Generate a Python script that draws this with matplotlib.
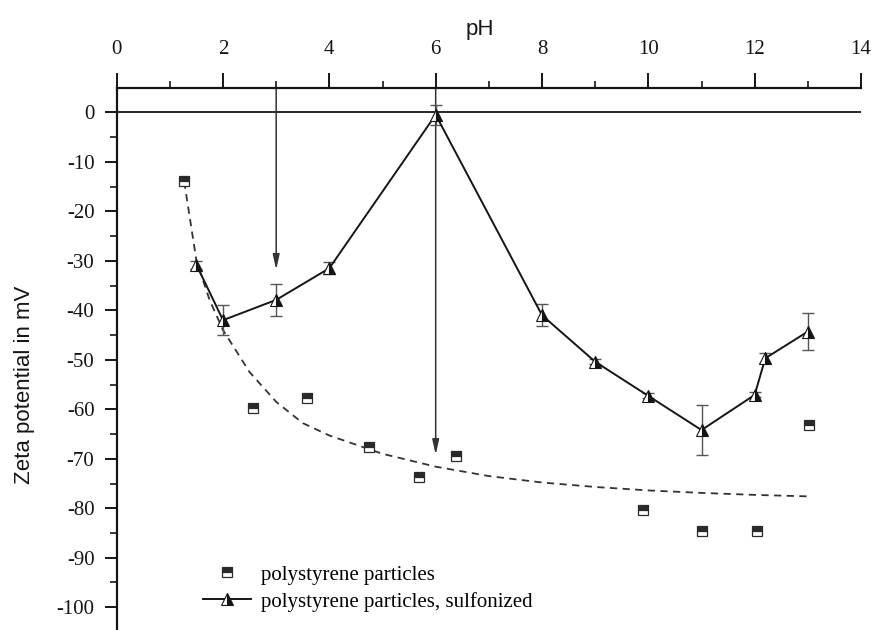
import numpy as np
import matplotlib
matplotlib.use("Agg")
import matplotlib.pyplot as plt
from matplotlib.lines import Line2D
from matplotlib.ticker import MultipleLocator

plt.rcParams["axes.unicode_minus"] = False

# polystyrene particles, sulfonized (triangles, with error bars)
ph_sulf = [1.5, 2.0, 3.0, 4.0, 6.0, 8.0, 9.0, 10.0, 11.0, 12.0, 12.2, 13.0]
zeta_sulf = [-30.8, -42.0, -37.9, -31.5, -0.5, -41.0, -50.4, -57.3, -64.2, -57.1, -49.7, -44.3]
err_sulf = [0.8, 3.0, 3.3, 1.2, 2.0, 2.2, 0.5, 0.5, 5.0, 0.5, 1.0, 3.8]

# polystyrene particles (squares)
ph_plain = [1.27, 2.57, 3.58, 4.74, 5.68, 6.39, 9.9, 11.0, 12.05, 13.02]
zeta_plain = [-13.8, -59.8, -57.8, -67.6, -73.6, -69.4, -80.3, -84.5, -84.5, -63.2]

# dashed trend line
ph_trend = [1.27, 1.5, 1.75, 2.0, 2.5, 3.0, 3.5, 4.0, 5.0, 6.0, 7.0, 8.0, 9.0, 10.0, 11.0, 12.0, 13.0]
zeta_trend = [-14.0, -30.0, -38.0, -44.0, -52.5, -58.5, -62.8, -65.3, -69.0, -71.6, -73.5, -74.8, -75.7, -76.4, -76.9, -77.3, -77.6]

# arrows (pH, tip value)
arrow_ph = [3, 6]
arrow_tip = [-31.8, -69.2]

xticks = [0, 2, 4, 6, 8, 10, 12, 14]
yticks = [0, -10, -20, -30, -40, -50, -60, -70, -80, -90, -100]

serif = "Liberation Serif"
sans = "Liberation Sans"
ink = "#151515"

fig = plt.figure(figsize=(8.75, 6.3), dpi=100)
ax = fig.add_axes([116.7 / 875, 0, 744.3 / 875, 541.7 / 630])
ax.set_xlim(0, 14)
ax.set_ylim(-104.6, 4.85)

# zero line
ax.axhline(0, color=ink, lw=1.3, zorder=1)

# arrows from the pH axis
for xp, tip in zip(arrow_ph, arrow_tip):
    ax.annotate("", xy=(xp, tip), xytext=(xp, 4.85),
                arrowprops=dict(arrowstyle="-|>,head_width=0.2,head_length=0.9",
                                color="#333333", lw=1.1, shrinkA=0, shrinkB=0),
                zorder=2)

# dashed trend
ax.plot(ph_trend, zeta_trend, ls=(0, (4, 3)), color="#333333", lw=1.3, zorder=2)

# plain particles
ax.plot(ph_plain, zeta_plain, ls="none", marker="s", ms=6.5, fillstyle="top",
        markerfacecolor="#2a2a2a", markerfacecoloralt="white",
        markeredgecolor="#2a2a2a", markeredgewidth=0.9, zorder=4)

# sulfonized particles
ax.errorbar(ph_sulf, zeta_sulf, yerr=err_sulf, fmt="none", ecolor="#555555",
            elinewidth=1.0, capsize=4.5, capthick=1.0, zorder=3)
ax.plot(ph_sulf, zeta_sulf, color=ink, lw=1.4, marker="^", ms=9,
        fillstyle="right", markerfacecolor=ink, markerfacecoloralt="white",
        markeredgecolor=ink, markeredgewidth=0.8, zorder=5)

# axes styling
for s in ["right", "bottom"]:
    ax.spines[s].set_visible(False)
for s in ["top", "left"]:
    ax.spines[s].set_linewidth(1.6)
    ax.spines[s].set_color(ink)

ax.xaxis.set_ticks_position("top")
ax.set_xticks(xticks)
ax.xaxis.set_minor_locator(MultipleLocator(1))
ax.set_yticks(yticks)
ax.yaxis.set_minor_locator(MultipleLocator(5))
ax.tick_params(axis="x", which="major", direction="out", length=11, width=1.4,
               pad=10, labelsize=15, colors=ink)
ax.tick_params(axis="x", which="minor", direction="out", length=5, width=1.2, colors=ink)
ax.tick_params(axis="y", which="major", direction="out", length=9, width=1.4,
               pad=7, labelsize=15, colors=ink)
ax.tick_params(axis="y", which="minor", direction="out", length=5, width=1.2, colors=ink)
for lab in ax.get_xticklabels() + ax.get_yticklabels():
    lab.set_family(serif)

fig.text(480 / 875, 1 - 30 / 630, "pH", ha="center", va="center",
         family=sans, fontsize=16, color=ink)
fig.text(25 / 875, 1 - 385 / 630, "Zeta potential in mV", ha="center", va="center",
         rotation=90, family=sans, fontsize=16, color=ink)

# legend
h1 = Line2D([], [], ls="none", marker="s", ms=6.5, fillstyle="top",
            markerfacecolor="#2a2a2a", markerfacecoloralt="white",
            markeredgecolor="#2a2a2a", markeredgewidth=0.9)
h2 = Line2D([], [], color=ink, lw=1.4, marker="^", ms=9, fillstyle="right",
            markerfacecolor=ink, markerfacecoloralt="white",
            markeredgecolor=ink, markeredgewidth=0.8)
ax.legend([h1, h2], ["polystyrene particles", "polystyrene particles, sulfonized"],
          loc="upper left", bbox_to_anchor=((203 - 116.7) / 744.3, (630 - 565) / 541.7),
          frameon=False, borderpad=0, borderaxespad=0, handlelength=2.3,
          handletextpad=0.5, labelspacing=0.35,
          prop=dict(family=serif, size=15))

fig.savefig("out.png", dpi=100, facecolor="white")
